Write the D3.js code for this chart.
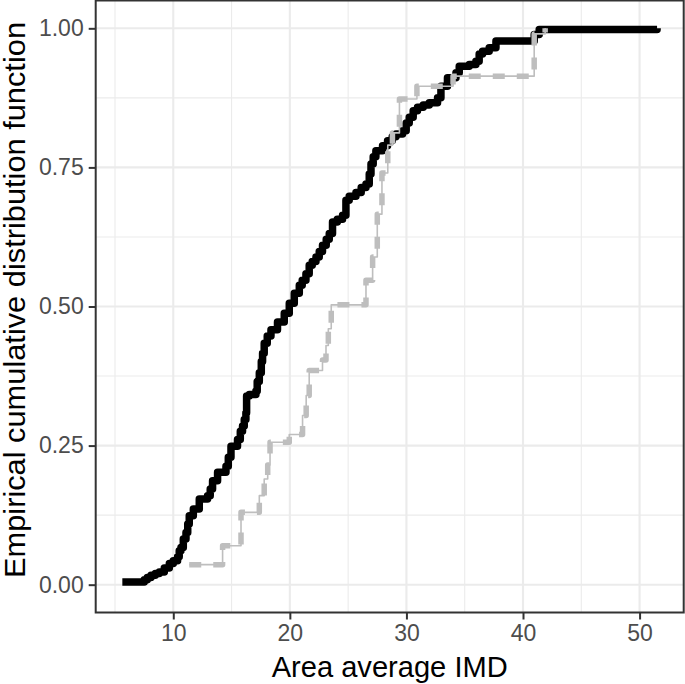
<!DOCTYPE html>
<html><head><meta charset="utf-8">
<script src="https://cdn.jsdelivr.net/npm/d3@7"></script>
<style>body{margin:0;background:#fff}svg{display:block}</style>
</head><body><svg id="c" width="685" height="684"></svg>
<script>
const blackX = [5.63,7.51,7.77,8.09,8.46,8.80,9.23,9.66,10.0,10.37,10.51,10.66,10.86,11.09,11.24,11.37,11.72,12.23,12.94,13.17,13.37,13.80,14.52,14.72,14.95,15.51,15.75,15.94,16.09,16.23,16.29,16.52,17.09,17.20,17.38,17.55,17.66,17.80,18.06,18.38,18.94,19.52,19.95,20.38,20.81,21.06,21.38,21.66,21.92,22.24,22.52,22.80,23.12,23.38,23.66,24.07,24.52,24.81,25.09,25.67,26.12,26.53,26.81,26.96,27.15,27.38,27.95,28.38,28.78,29.10,29.67,29.98,30.24,30.58,30.95,31.44,31.96,32.67,32.96,33.52,34.25,34.53,35.39,35.96,36.24,36.53,37.10,37.68,40.96,41.39,51.5];
const blackY = [0.005,0.009,0.013,0.017,0.020,0.023,0.030,0.038,0.043,0.050,0.061,0.067,0.082,0.094,0.109,0.124,0.136,0.154,0.160,0.172,0.187,0.202,0.213,0.229,0.249,0.261,0.276,0.285,0.297,0.309,0.339,0.342,0.348,0.365,0.381,0.401,0.416,0.434,0.447,0.458,0.472,0.488,0.506,0.524,0.538,0.547,0.559,0.574,0.581,0.589,0.599,0.610,0.621,0.631,0.652,0.657,0.664,0.691,0.698,0.705,0.714,0.720,0.738,0.756,0.769,0.780,0.789,0.798,0.805,0.810,0.816,0.830,0.840,0.852,0.858,0.862,0.866,0.875,0.896,0.911,0.920,0.932,0.935,0.941,0.954,0.959,0.965,0.977,0.989,0.998,1.0];
const greyX = [11.37,14.23,15.81,17.38,17.8,18.1,18.3,19.95,21.09,21.4,21.66,22.8,23.1,23.3,23.55,26.53,27.1,27.5,27.9,28.4,28.8,29.4,30.9,34.0,40.96,41.9];
const greyY = [0.036,0.070,0.130,0.16,0.19,0.215,0.256,0.270,0.304,0.34,0.385,0.404,0.43,0.46,0.503,0.547,0.589,0.666,0.74,0.79,0.812,0.873,0.896,0.914,0.990,1.0];
const xTicks = [10,20,30,40,50];
const xMinor = [5,15,25,35,45];
const yTicks = [0,0.25,0.5,0.75,1];
const yMinor = [0.125,0.375,0.625,0.875];
const xTitle = "Area average IMD";
const yTitle = "Empirical cumulative distribution function";

const L = 95.7, R = 683.7, T = 0.5, B = 612.5;
const svg = d3.select("#c");
const font = "'Liberation Sans', Arial, Helvetica, sans-serif";
const x = d3.scaleLinear().domain([3.345, 53.785]).range([L, R]);
const y = d3.scaleLinear().domain([-0.05, 1.05]).range([B, T]);

const g = svg.append("g");
g.selectAll(".xm").data(xMinor).join("line").attr("x1", d => x(d)).attr("x2", d => x(d))
  .attr("y1", T).attr("y2", B).attr("stroke", "#EBEBEB").attr("stroke-width", 1.1);
g.selectAll(".ym").data(yMinor).join("line").attr("y1", d => y(d)).attr("y2", d => y(d))
  .attr("x1", L).attr("x2", R).attr("stroke", "#EBEBEB").attr("stroke-width", 1.1);
g.selectAll(".xM").data(xTicks).join("line").attr("x1", d => x(d)).attr("x2", d => x(d))
  .attr("y1", T).attr("y2", B).attr("stroke", "#EBEBEB").attr("stroke-width", 2.1);
g.selectAll(".yM").data(yTicks).join("line").attr("y1", d => y(d)).attr("y2", d => y(d))
  .attr("x1", L).attr("x2", R).attr("stroke", "#EBEBEB").attr("stroke-width", 2.1);

const line = d3.line().x(d => x(d[0])).y(d => y(d[1])).curve(d3.curveStepAfter);
const black = blackX.map((v, i) => [v, blackY[i]]);
const grey = greyX.map((v, i) => [v, greyY[i]]);

svg.append("path").attr("d", line(black)).attr("fill", "none").attr("stroke", "#000")
  .attr("stroke-width", 7.5).attr("stroke-linejoin", "round").attr("stroke-linecap", "butt");
svg.append("path").attr("d", line(grey)).attr("fill", "none").attr("stroke", "#BEBEBE")
  .attr("stroke-width", 1.6).attr("stroke-linejoin", "round");
svg.append("path").attr("d", line(grey)).attr("fill", "none").attr("stroke", "#BEBEBE")
  .attr("stroke-width", 5.5).attr("stroke-dasharray", "12,12").attr("stroke-linejoin", "round");

svg.append("rect").attr("x", L).attr("y", T).attr("width", R - L).attr("height", B - T)
  .attr("fill", "none").attr("stroke", "#333333").attr("stroke-width", 2);

const xAxis = d3.axisBottom(x).tickValues(xTicks).tickSize(7).tickPadding(5).tickFormat(d3.format("d"));
const xa = svg.append("g").attr("transform", `translate(0,${B})`).call(xAxis);
const yAxis = d3.axisLeft(y).tickValues(yTicks).tickSize(7).tickPadding(5).tickFormat(d3.format(".2f"));
const ya = svg.append("g").attr("transform", `translate(${L},0)`).call(yAxis);
[xa, ya].forEach(a => {
  a.select(".domain").remove();
  a.selectAll(".tick line").attr("stroke", "#333333").attr("stroke-width", 2);
  a.selectAll(".tick text").attr("fill", "#4D4D4D").style("font-family", font).style("font-size", "23px");
});
xa.selectAll(".tick text").attr("y", 12).attr("dy", "0.71em");

svg.append("text").attr("x", (L + R) / 2).attr("y", 677).attr("text-anchor", "middle")
  .style("font-family", font).style("font-size", "29px").attr("fill", "#000")
  .attr("textLength", 236).attr("lengthAdjust", "spacingAndGlyphs").text(xTitle);
svg.append("text").attr("transform", `translate(25,300) rotate(-90)`).attr("text-anchor", "middle")
  .style("font-family", font).style("font-size", "29px").attr("fill", "#000")
  .attr("textLength", 556).attr("lengthAdjust", "spacingAndGlyphs").text(yTitle);
</script></body></html>
